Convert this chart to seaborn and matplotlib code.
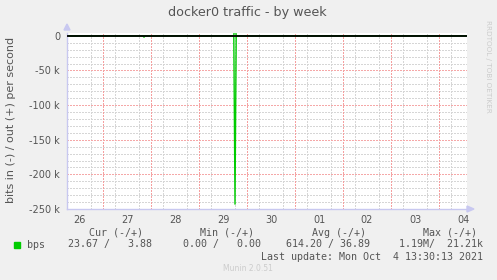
import matplotlib
matplotlib.use("Agg")
import matplotlib.pyplot as plt
import seaborn as sns
import pandas as pd
from matplotlib.ticker import FixedLocator, FuncFormatter

# ---- data (hours since Sep 26 00:00) ----
time_h = [6.0, 44.0, 44.5, 45.0, 89.4, 90.0, 90.6, 206.0]
in_bps = [0, 0, 2000, 0, 0, 243000, 0, 0]
out_bps = [0, 0, 0, 0, 0, 21210, 0, 0]
day_labels = ["26", "27", "28", "29", "30", "01", "02", "03", "04"]
yticks = [0, -50000, -100000, -150000, -200000, -250000]

title = "docker0 traffic - by week"
ylabel = "bits in (-) / out (+) per second"
headers = ["Cur (-/+)", "Min (-/+)", "Avg (-/+)", "Max (-/+)"]
values = ["23.67 /   3.88", "0.00 /   0.00", "614.20 / 36.89", "1.19M/  21.21k"]
series_name = "bps"
last_update = "Last update: Mon Oct  4 13:30:13 2021"
version = "Munin 2.0.51"

sns.set_theme(style="white")
plt.rcParams["font.family"] = ["DejaVu Sans"]

W, H = 497, 280
fig = plt.figure(figsize=(W / 100, H / 100), dpi=100, facecolor="#F0F0F0")
ax = fig.add_axes([67 / W, (H - 209) / H, 400 / W, (209 - 32.7) / H])
ax.set_facecolor("white")

df = pd.DataFrame({"t": time_h, "in": [-v for v in in_bps], "out": out_bps})

ax.set_xlim(6, 206)
ax.set_ylim(-250000, 4500)

# grids (minor: 6 h / 10 k, skipping the major positions)
dots = (0, (1, 1))
minor_x = [6 * k for k in range(1, 35) if (6 * k) % 24 != 0]
minor_y = [-10000 * k for k in range(1, 25) if k % 5 != 0]
ax.xaxis.set_minor_locator(FixedLocator(minor_x))
ax.yaxis.set_minor_locator(FixedLocator(minor_y))
ax.grid(True, which="minor", color="#D6D6D6", linestyle=dots, linewidth=1.0,
        zorder=0, antialiased=False)
for d in range(1, len(day_labels)):
    ax.axvline(24 * d, color="#F5A0A0", linestyle=dots, linewidth=1.0, zorder=1,
               antialiased=False)
for y in yticks[1:]:
    ax.axhline(y, color="#F5A8A8", linestyle=dots, linewidth=1.0, zorder=1,
               antialiased=False)

sns.lineplot(data=df, x="t", y="in", ax=ax, color="#00CC00", linewidth=1.0,
             estimator=None, sort=False, zorder=2)
sns.lineplot(data=df, x="t", y="out", ax=ax, color="#00CC00", linewidth=1.0,
             estimator=None, sort=False, zorder=2)
ax.axhline(0, color="black", linewidth=1.3, zorder=3)

# ticks
noon = [12 + 24 * i for i in range(len(day_labels))]
ax.xaxis.set_major_locator(FixedLocator(noon))
ax.set_xticklabels(day_labels)
ax.yaxis.set_major_locator(FixedLocator(yticks))
ax.yaxis.set_major_formatter(FuncFormatter(lambda v, p: "0" if v == 0 else f"{int(v/1000)} k"))
ax.tick_params(axis="both", which="both", length=0, labelsize=7, colors="#555555")
ax.tick_params(axis="x", pad=4)
ax.tick_params(axis="y", pad=5)
ax.set_xlabel("")
ax.set_ylabel("")

for s in ["top", "right"]:
    ax.spines[s].set_visible(False)
for s in ["left", "bottom"]:
    ax.spines[s].set_color("#C8C8F0")
    ax.spines[s].set_linewidth(1.0)

# axis arrows
fig.patches.append(plt.Polygon([[64 / W, (H - 30) / H], [70 / W, (H - 30) / H], [67 / W, (H - 24) / H]],
                               closed=True, transform=fig.transFigure, color="#C8C8F0"))
fig.patches.append(plt.Polygon([[467 / W, (H - 206) / H], [467 / W, (H - 212) / H], [474 / W, (H - 209) / H]],
                               closed=True, transform=fig.transFigure, color="#C8C8F0"))

# texts
def fx(x):
    return x / W

def fy(y):
    return (H - y) / H

fig.text(fx(247.5), fy(12.5), title, ha="center", va="center", fontsize=9.2, color="#555555")
fig.text(fx(11), fy(120), ylabel, ha="center", va="center", rotation=90, fontsize=8, color="#555555")
fig.text(fx(488), fy(20), "RRDTOOL / TOBI OETIKER", ha="center", va="top", rotation=270,
         fontsize=5.2, color="#CCCCCC")

mono = "DejaVu Sans Mono"
hdr_right = [143, 254.5, 366, 477]
val_right = [152, 261, 369.5, 483]
for h, x in zip(headers, hdr_right):
    fig.text(fx(x), fy(232.5), h, ha="right", va="center", fontsize=7.2, family=mono, color="#555555")
for v, x in zip(values, val_right):
    fig.text(fx(x), fy(244.5), v, ha="right", va="center", fontsize=7.2, family=mono, color="#555555")
fig.text(fx(26.5), fy(244.5), series_name, ha="left", va="center", fontsize=7.2, family=mono, color="#555555")
fig.patches.append(plt.Rectangle((fx(14), fy(248)), 6 / W, 6 / H, transform=fig.transFigure, color="#00CC00"))
fig.text(fx(483), fy(257), last_update, ha="right", va="center", fontsize=7.2, family=mono, color="#555555")
fig.text(fx(248), fy(268.5), version, ha="center", va="center", fontsize=5.5, color="#CCCCCC")

fig.savefig("out.png", dpi=100, facecolor=fig.get_facecolor())
